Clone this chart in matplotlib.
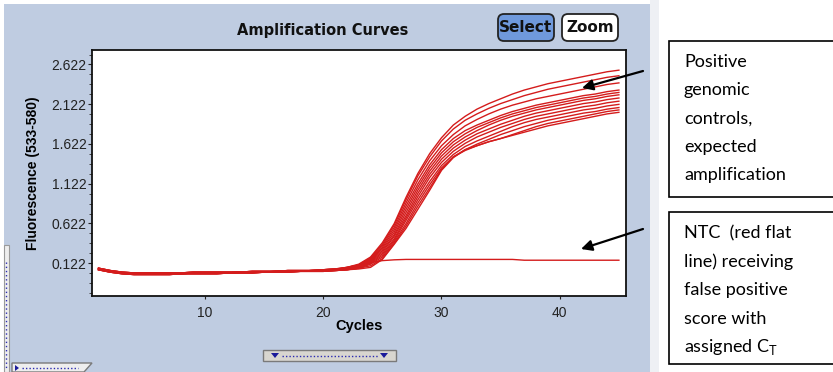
import matplotlib
matplotlib.use("Agg")
import numpy as np
from matplotlib import pyplot as plt
from matplotlib.patches import Rectangle, FancyBboxPatch, Polygon

plt.rcParams['mathtext.fontset'] = 'custom'
plt.rcParams['mathtext.rm'] = 'Lato'

# cycles 1..45
cycles = list(range(1, 46))

# baseline part (cycles 1-21)
base_hi = [0.06, 0.03, 0.01, 0.00, 0.00, 0.00, 0.00, 0.00, 0.01, 0.01, 0.01,
           0.01, 0.01, 0.02, 0.02, 0.02, 0.03, 0.03, 0.03, 0.04, 0.05]
base_mid = [0.05, 0.02, 0.00, -0.01, -0.01, -0.01, -0.01, -0.01, 0.00, 0.00, 0.00,
            0.00, 0.01, 0.01, 0.01, 0.02, 0.02, 0.02, 0.03, 0.03, 0.04]
base_lo = [0.04, 0.01, -0.01, -0.02, -0.02, -0.02, -0.02, -0.01, -0.01, -0.01, -0.01,
           0.00, 0.00, 0.00, 0.01, 0.01, 0.01, 0.02, 0.02, 0.02, 0.03]

# positive genomic controls, cycles 22-45
pos_a = base_hi + [0.07, 0.11, 0.20, 0.38, 0.62, 0.95, 1.25, 1.50, 1.70, 1.86, 1.97, 2.06,
                   2.13, 2.19, 2.25, 2.30, 2.34, 2.38, 2.41, 2.44, 2.47, 2.50, 2.53, 2.55]
pos_b = base_hi + [0.07, 0.10, 0.19, 0.36, 0.60, 0.92, 1.22, 1.46, 1.66, 1.81, 1.92, 2.00,
                   2.07, 2.13, 2.18, 2.23, 2.27, 2.31, 2.34, 2.37, 2.40, 2.43, 2.46, 2.48]
pos_c = base_hi + [0.06, 0.10, 0.18, 0.34, 0.57, 0.88, 1.17, 1.41, 1.60, 1.74, 1.85, 1.93,
                   2.00, 2.06, 2.11, 2.15, 2.19, 2.22, 2.25, 2.28, 2.31, 2.34, 2.37, 2.39]
pos_d = base_hi + [0.06, 0.09, 0.17, 0.32, 0.54, 0.84, 1.12, 1.36, 1.55, 1.69, 1.79, 1.86,
                   1.92, 1.98, 2.03, 2.07, 2.11, 2.14, 2.17, 2.20, 2.23, 2.25, 2.28, 2.30]
pos_e = base_mid + [0.06, 0.09, 0.16, 0.30, 0.51, 0.80, 1.08, 1.32, 1.51, 1.65, 1.75, 1.83,
                    1.89, 1.95, 2.00, 2.04, 2.08, 2.11, 2.14, 2.17, 2.20, 2.22, 2.25, 2.27]
pos_f = base_mid + [0.05, 0.08, 0.15, 0.28, 0.48, 0.76, 1.04, 1.28, 1.47, 1.61, 1.71, 1.79,
                    1.86, 1.92, 1.97, 2.01, 2.05, 2.08, 2.11, 2.14, 2.17, 2.19, 2.22, 2.24]
pos_g = base_mid + [0.05, 0.08, 0.14, 0.26, 0.46, 0.72, 1.00, 1.24, 1.43, 1.57, 1.67, 1.75,
                    1.81, 1.87, 1.92, 1.97, 2.01, 2.04, 2.07, 2.10, 2.13, 2.15, 2.18, 2.20]
pos_h = base_mid + [0.05, 0.07, 0.13, 0.24, 0.43, 0.69, 0.96, 1.20, 1.39, 1.53, 1.63, 1.71,
                    1.77, 1.83, 1.88, 1.93, 1.97, 2.00, 2.03, 2.06, 2.09, 2.11, 2.14, 2.16]
pos_i = base_lo + [0.04, 0.07, 0.12, 0.22, 0.41, 0.66, 0.92, 1.15, 1.35, 1.49, 1.59, 1.66,
                   1.72, 1.78, 1.84, 1.89, 1.93, 1.96, 1.99, 2.02, 2.05, 2.07, 2.10, 2.12]
pos_j = base_lo + [0.04, 0.06, 0.11, 0.20, 0.39, 0.62, 0.88, 1.11, 1.32, 1.46, 1.55, 1.62,
                   1.68, 1.74, 1.79, 1.84, 1.88, 1.92, 1.95, 1.98, 2.01, 2.03, 2.06, 2.08]
pos_k = base_lo + [0.04, 0.06, 0.09, 0.18, 0.37, 0.59, 0.84, 1.07, 1.30, 1.46, 1.54, 1.60,
                   1.65, 1.69, 1.74, 1.79, 1.84, 1.88, 1.91, 1.94, 1.97, 2.00, 2.03, 2.05]
pos_l = base_lo + [0.04, 0.05, 0.07, 0.17, 0.36, 0.56, 0.80, 1.04, 1.29, 1.45, 1.55, 1.60,
                   1.65, 1.69, 1.73, 1.77, 1.81, 1.85, 1.88, 1.91, 1.94, 1.97, 2.00, 2.02]
positives = [pos_a, pos_b, pos_c, pos_d, pos_e, pos_f, pos_g, pos_h,
             pos_i, pos_j, pos_k, pos_l]

# no template control (flat line)
ntc = base_mid + [0.07, 0.10, 0.13, 0.155, 0.165, 0.17, 0.17, 0.17, 0.17, 0.17, 0.17,
                  0.17, 0.17, 0.17, 0.17, 0.16, 0.16, 0.16, 0.16, 0.16, 0.16, 0.16,
                  0.16, 0.16]

y_ticks = [0.122, 0.622, 1.122, 1.622, 2.122, 2.622]
y_tick_labels = ['0.122', '0.622', '1.122', '1.622', '2.122', '2.622']
x_ticks = [10, 20, 30, 40]

W, H = 833, 372
red = '#d41c1c'
panel = '#bfcce1'


def px_axes(fig, z):
    """Full-figure axes in pixel coords (y down) for the decorations."""
    a = fig.add_axes([0, 0, 1, 1], zorder=z)
    a.set_xlim(0, W)
    a.set_ylim(H, 0)
    a.axis('off')
    a.patch.set_alpha(0)
    return a


def main():
    fig = plt.figure(figsize=(W / 100, H / 100), dpi=100)
    fig.patch.set_facecolor('white')

    bg = px_axes(fig, 0)
    bg.add_patch(Rectangle((4, 4), 646, 372, fc=panel, ec='none'))
    bg.add_patch(Rectangle((650, 0), 9, 372, fc='#eef0f4', ec='none'))

    # main plot
    ax = fig.add_axes([92 / W, 1 - 296 / H, 534 / W, 246.5 / H], zorder=1)
    for vals in positives:
        ax.plot(cycles, vals, color=red, lw=1.0)
    ax.plot(cycles, ntc, color=red, lw=1.0)

    ax.set_xlim(0.45, 45.6)
    ax.set_ylim(-0.29, 2.81)
    ax.set_xticks(x_ticks)
    ax.set_yticks(y_ticks)
    ax.set_yticklabels(y_tick_labels)
    ax.set_yticks(np.arange(-0.253, 2.8, 0.125), minor=True)
    ax.tick_params(axis='y', which='major', length=3, width=0.8, pad=1,
                   labelsize=10, colors='#222222')
    ax.tick_params(axis='y', which='minor', length=2, width=0.7, color='#444444')
    ax.tick_params(axis='x', which='major', length=2.5, width=0.8, pad=5,
                   labelsize=10, colors='#222222')
    for lab in ax.get_xticklabels() + ax.get_yticklabels():
        lab.set_family('Liberation Sans')
    for s in ax.spines.values():
        s.set_linewidth(1.3)
        s.set_color('#111111')

    ax.set_xlabel('Cycles', fontsize=10.5, fontweight='bold', family='Liberation Sans')
    ax.xaxis.set_label_coords(0.5, -0.095)
    ax.set_ylabel('Fluorescence (533-580)', fontsize=10, fontweight='bold',
                  family='Liberation Sans')
    ax.yaxis.set_label_coords(-0.097, 0.5)

    fg = px_axes(fig, 2)
    fg.text(323, 30, 'Amplification Curves', ha='center', va='center',
            fontsize=10.5, fontweight='bold', family='DejaVu Sans', color='#111111')

    # Select / Zoom buttons
    fg.add_patch(FancyBboxPatch((498, 14), 56, 27, boxstyle='round,pad=0,rounding_size=6',
                                fc='#6f99dc', ec='#222222', lw=1.3))
    fg.text(526, 27.5, 'Select', ha='center', va='center', fontsize=11,
            fontweight='bold', color='#111111')
    fg.add_patch(FancyBboxPatch((562, 14), 56, 27, boxstyle='round,pad=0,rounding_size=6',
                                fc='white', ec='#222222', lw=1.3))
    fg.text(590, 27.5, 'Zoom', ha='center', va='center', fontsize=11,
            fontweight='bold', color='#111111')

    # little scroll widgets
    fg.add_patch(Rectangle((263, 350), 133, 11, fc='#d8d6d0', ec='#7a7a7a', lw=1))
    fg.plot([282, 378], [355.5, 355.5], ls=(0, (1, 1.5)), color='#2b2bb0', lw=1)
    fg.add_patch(Polygon([[271, 353], [279, 353], [275, 358]], fc='#1a1a9a'))
    fg.add_patch(Polygon([[380, 353], [388, 353], [384, 358]], fc='#1a1a9a'))
    fg.add_patch(Rectangle((4, 245), 5, 127, fc='#eeeeee', ec='#9a9a9a', lw=0.8))
    fg.plot([6.5, 6.5], [262, 370], ls=(0, (1, 2)), color='#2b2bb0', lw=1)
    fg.add_patch(Polygon([[12, 372], [12, 363], [92, 363], [84, 372]],
                         fc='#eeeeee', ec='#7a7a7a', lw=1))
    fg.plot([22, 78], [368, 368], ls=(0, (1, 1.5)), color='#2b2bb0', lw=1)
    fg.add_patch(Polygon([[15, 365], [15, 371], [19, 368]], fc='#1a1a9a'))

    # annotation boxes
    fg.add_patch(Rectangle((669, 41), 180, 156, fc='white', ec='black', lw=1.2,
                           clip_on=False))
    fg.add_patch(Rectangle((669, 212), 180, 152, fc='white', ec='black', lw=1.2,
                           clip_on=False))
    box1 = ['Positive', 'genomic', 'controls,', 'expected', 'amplification']
    box2 = ['NTC  (red flat', 'line) receiving', 'false positive', 'score with',
            r'assigned C$_{\mathrm{T}}$']
    for i, t in enumerate(box1):
        fg.text(684, 62 + 28.3 * i, t, ha='left', va='center', fontsize=13,
                family='Lato', color='black')
    for i, t in enumerate(box2):
        fg.text(684, 233 + 28.5 * i, t, ha='left', va='center', fontsize=13,
                family='Lato', color='black')

    # arrows
    arrow = dict(arrowstyle='-|>', color='black', lw=1.6, mutation_scale=16,
                 shrinkA=0, shrinkB=0)
    fg.annotate('', xy=(582, 88), xytext=(643, 71), arrowprops=arrow)
    fg.annotate('', xy=(581, 249), xytext=(643, 229), arrowprops=arrow)

    fig.savefig('out.png', dpi=100)


if __name__ == "__main__":
    main()
